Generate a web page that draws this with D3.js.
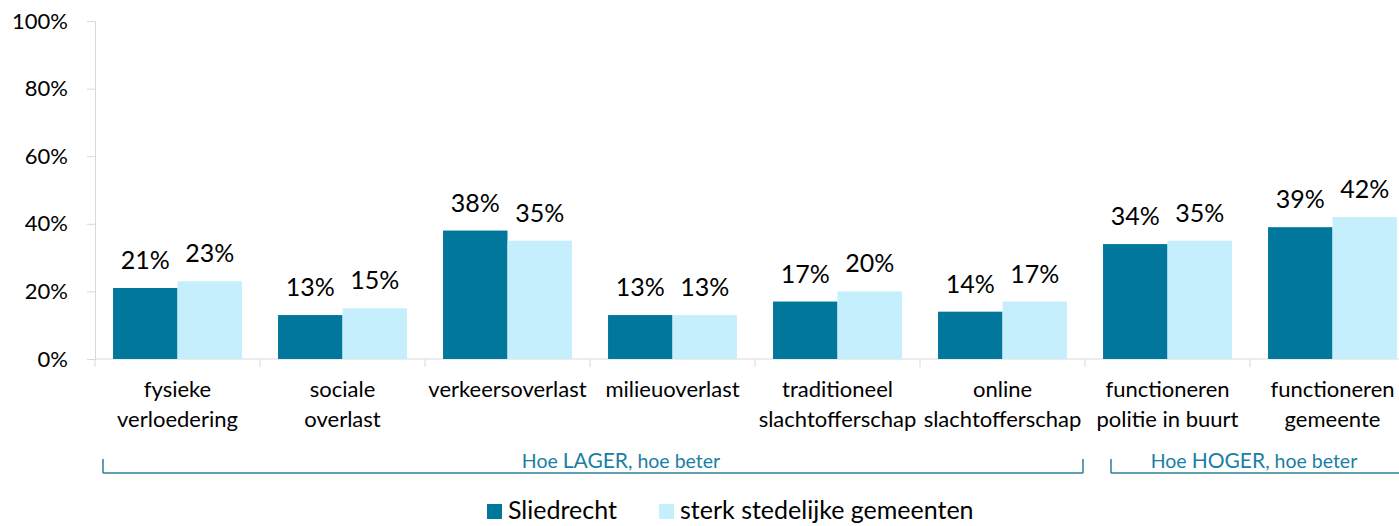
<!DOCTYPE html>
<html>
<head>
<meta charset="utf-8">
<script src="https://cdn.jsdelivr.net/npm/d3@7"></script>
<style>
  body { margin: 0; background: #fff; }
  text { font-family: Lato, "Open Sans", sans-serif; }
</style>
</head>
<body>
<div class="grafico"></div>
<script>
const categories = [
  ["fysieke", "verloedering"],
  ["sociale", "overlast"],
  ["verkeersoverlast"],
  ["milieuoverlast"],
  ["traditioneel", "slachtofferschap"],
  ["online", "slachtofferschap"],
  ["functioneren", "politie in buurt"],
  ["functioneren", "gemeente"]
];
const sliedrecht = [21, 13, 38, 13, 17, 14, 34, 39];
const sterk = [23, 15, 35, 13, 20, 17, 35, 42];
const seriesNames = ["Sliedrecht", "sterk stedelijke gemeenten"];
const yTicks = [0, 20, 40, 60, 80, 100];

const width = 1399, height = 526;
const x0 = 95, x1 = 1415, yTop = 21, yBottom = 359;

const color = d3.scaleOrdinal()
  .domain(seriesNames)
  .range(["#00779b", "#c5effd"]);

const svg = d3.select(".grafico")
  .append("svg")
  .attr("width", width)
  .attr("height", height);

const x = d3.scaleBand()
  .domain(d3.range(categories.length))
  .range([x0, x1])
  .paddingInner(0)
  .paddingOuter(0);

const xSub = d3.scaleBand()
  .domain(seriesNames)
  .range([0, x.bandwidth()])
  .paddingInner(0)
  .paddingOuter(0.28);

const y = d3.scaleLinear()
  .domain([0, 100])
  .range([yBottom, yTop]);

// y axis
const yAxis = svg.append("g")
  .attr("transform", `translate(${x0},0)`)
  .call(d3.axisLeft(y).tickValues(yTicks).tickFormat(d => d + "%").tickSize(8).tickPadding(19));
yAxis.select(".domain").attr("stroke", "#d9d9d9");
yAxis.selectAll(".tick line").attr("stroke", "#d9d9d9");
yAxis.selectAll(".tick text")
  .attr("font-size", 22)
  .attr("fill", "#000")
  .style("font-family", "Lato, sans-serif");

// x axis line and ticks
const xAxis = svg.append("g")
  .attr("transform", `translate(0,${yBottom})`);
xAxis.append("line")
  .attr("x1", x0).attr("x2", x1)
  .attr("stroke", "#d9d9d9");
xAxis.selectAll("line.tk")
  .data(d3.range(categories.length + 1))
  .enter().append("line")
  .attr("class", "tk")
  .attr("x1", d => x0 + d * x.bandwidth())
  .attr("x2", d => x0 + d * x.bandwidth())
  .attr("y1", 0).attr("y2", 8)
  .attr("stroke", "#d9d9d9");

// bars
const rows = categories.map((c, i) => ({
  i, values: [
    { key: seriesNames[0], value: sliedrecht[i] },
    { key: seriesNames[1], value: sterk[i] }
  ]
}));

const groups = svg.selectAll("g.grp")
  .data(rows)
  .enter().append("g")
  .attr("class", "grp")
  .attr("transform", d => `translate(${x(d.i)},0)`);

groups.selectAll("rect")
  .data(d => d.values)
  .enter().append("rect")
  .attr("x", d => xSub(d.key))
  .attr("y", d => y(d.value))
  .attr("width", xSub.bandwidth())
  .attr("height", d => yBottom - y(d.value))
  .attr("fill", d => color(d.key));

groups.selectAll("text.val")
  .data(d => d.values)
  .enter().append("text")
  .attr("class", "val")
  .attr("x", d => xSub(d.key) + xSub.bandwidth() / 2)
  .attr("y", d => y(d.value) - 19)
  .attr("text-anchor", "middle")
  .attr("font-size", 25)
  .attr("fill", "#000")
  .text(d => d.value + "%");

// category labels
const catLabels = svg.selectAll("text.cat")
  .data(categories)
  .enter().append("text")
  .attr("class", "cat")
  .attr("text-anchor", "middle")
  .attr("font-size", 22)
  .attr("fill", "#000")
  .attr("transform", (d, i) => `translate(${x(i) + x.bandwidth() / 2},397)`);
catLabels.selectAll("tspan")
  .data(d => d)
  .enter().append("tspan")
  .attr("x", 0)
  .attr("y", (d, j) => j * 30)
  .text(d => d);

// brackets
const brackets = [
  { label: ["Hoe ", "LAGER", ", hoe beter"], from: 103, to: 1083, ticks: [103, 1083], mid: 621 },
  { label: ["Hoe ", "HOGER", ", hoe beter"], from: 1111, to: 1399, ticks: [1111], mid: 1254 }
];
const bY = 473;
brackets.forEach(b => {
  svg.append("line")
    .attr("x1", b.from).attr("x2", b.to)
    .attr("y1", bY).attr("y2", bY)
    .attr("stroke", "#2a7f99").attr("stroke-width", 1.5);
  b.ticks.forEach(t => {
    svg.append("line")
      .attr("x1", t).attr("x2", t)
      .attr("y1", bY - 14).attr("y2", bY)
      .attr("stroke", "#2a7f99").attr("stroke-width", 1.5);
  });
  const t = svg.append("text")
    .attr("x", b.mid).attr("y", bY - 5)
    .attr("text-anchor", "middle")
    .attr("fill", "#1a80a3");
  t.selectAll("tspan").data(b.label).enter().append("tspan")
    .attr("font-size", (d, j) => j === 1 ? 21 : 19.5)
    .text(d => d);
});

// legend
const legend = [
  { key: seriesNames[0], x: 487 },
  { key: seriesNames[1], x: 659 }
];
legend.forEach(l => {
  svg.append("rect")
    .attr("x", l.x).attr("y", 504)
    .attr("width", 15).attr("height", 15)
    .attr("fill", color(l.key));
  svg.append("text")
    .attr("x", l.x + 21).attr("y", 519)
    .attr("font-size", 25)
    .attr("fill", "#000")
    .text(l.key);
});
</script>
</body>
</html>
